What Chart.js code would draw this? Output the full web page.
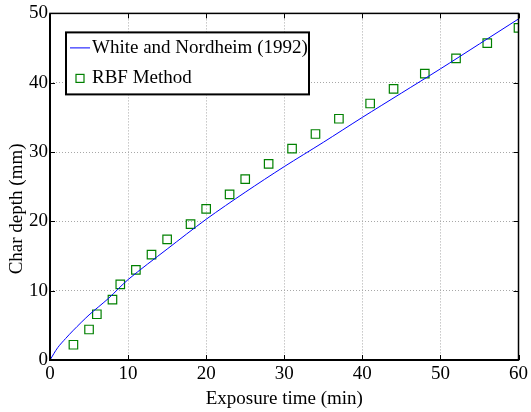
<!DOCTYPE html>
<html>
<head>
<meta charset="utf-8">
<script src="https://cdn.jsdelivr.net/npm/chart.js@4.4.0/dist/chart.umd.min.js"></script>
<style>
  html, body { margin: 0; padding: 0; background: #fff; }
  #wrap { width: 531px; height: 412px; }
</style>
</head>
<body>
<div id="wrap"><canvas id="myChart" width="531" height="412"></canvas></div>
<script>
// White and Nordheim (1992) curve
const modelTime = [0, 1, 2, 3, 5, 7.5, 10, 15, 20, 25, 30, 35, 40, 45, 50, 55, 60];
const modelDepth = [0, 1.8, 3.1, 4.3, 6.5, 8.9, 11.6, 16.0, 20.3, 24.2, 27.9, 31.4, 35.0, 38.5, 42.0, 45.6, 49.2];

// RBF method points
const rbfTime = [3, 5, 6, 8, 9, 11, 13, 15, 18, 20, 23, 25, 28, 31, 34, 37, 41, 44, 48, 52, 56, 60];
const rbfDepth = [2.2, 4.4, 6.6, 8.7, 10.9, 13.0, 15.2, 17.4, 19.6, 21.8, 23.9, 26.1, 28.3, 30.5, 32.6, 34.8, 37.0, 39.1, 41.3, 43.5, 45.7, 47.9];

const xTicks = [0, 10, 20, 30, 40, 50, 60];
const yTicks = [0, 10, 20, 30, 40, 50];
const yTitle = 'Char depth (mm)';

const serif = "'Liberation Serif', 'Times New Roman', serif";
const ctx = document.getElementById('myChart').getContext('2d');

function toPoints(xs, ys) {
    let pts = [];
    for (let i = 0; i < xs.length; i++) {
        pts.push({ x: xs[i], y: ys[i] });
    }
    return pts;
}

// frame with inward ticks, like the original plot
const framePlugin = {
    id: 'frame',
    afterDatasetsDraw(chart) {
        const c = chart.ctx;
        const a = chart.chartArea;
        const xs = chart.scales.x, ys = chart.scales.y;
        c.save();
        c.strokeStyle = '#000';
        c.lineWidth = 1;
        c.beginPath();
        xTicks.forEach(t => {
            const px = Math.round(xs.getPixelForValue(t)) + 0.5;
            c.moveTo(px, a.bottom); c.lineTo(px, a.bottom - 5);
            c.moveTo(px, a.top); c.lineTo(px, a.top + 5);
        });
        yTicks.forEach(t => {
            const py = Math.round(ys.getPixelForValue(t)) + 0.5;
            c.moveTo(a.left, py); c.lineTo(a.left + 5, py);
            c.moveTo(a.right, py); c.lineTo(a.right - 5, py);
        });
        c.stroke();
        c.lineWidth = 1.5;
        c.strokeRect(a.left, a.top, a.right - a.left, a.bottom - a.top);
        c.lineWidth = 2;
        c.beginPath();
        c.moveTo(a.left, a.top); c.lineTo(a.left, a.bottom); c.lineTo(a.right, a.bottom);
        c.stroke();

        // y axis title, sits a bit below the middle in the original
        c.translate(17, ys.getPixelForValue(21.8));
        c.rotate(-Math.PI / 2);
        c.font = '19px ' + serif;
        c.fillStyle = '#000';
        c.textAlign = 'center';
        c.textBaseline = 'middle';
        c.fillText(yTitle, 0, 0);
        c.restore();
    }
};

// legend box inside the plot, top left
const legendPlugin = {
    id: 'boxLegend',
    afterDraw(chart) {
        const c = chart.ctx;
        const a = chart.chartArea;
        const bx = a.left + 16, by = a.top + 19, bw = 243, bh = 62;
        c.save();
        c.fillStyle = '#fff';
        c.fillRect(bx, by, bw, bh);
        c.strokeStyle = '#000';
        c.lineWidth = 2;
        c.strokeRect(bx, by, bw, bh);
        c.font = '19px ' + serif;
        c.textBaseline = 'middle';
        c.fillStyle = '#000';
        const ds = chart.data.datasets;
        // line entry
        c.strokeStyle = ds[0].borderColor;
        c.lineWidth = 1;
        c.beginPath();
        c.moveTo(bx + 4, by + 15.5); c.lineTo(bx + 24, by + 15.5);
        c.stroke();
        c.fillText(ds[0].label, bx + 26, by + 16);
        // marker entry
        c.strokeStyle = ds[1].borderColor;
        c.lineWidth = 1.2;
        c.strokeRect(bx + 10, by + 42, 8, 8);
        c.fillText(ds[1].label, bx + 26, by + 46);
        c.restore();
    }
};

new Chart(ctx, {
    type: 'scatter',
    data: {
        datasets: [{
            label: 'White and Nordheim (1992)',
            data: toPoints(modelTime, modelDepth),
            showLine: true,
            borderColor: 'rgb(0,0,255)',
            borderWidth: 1,
            pointRadius: 0,
            tension: 0.3,
            fill: false
        }, {
            label: 'RBF Method',
            data: toPoints(rbfTime, rbfDepth),
            showLine: false,
            pointStyle: 'rect',
            pointRadius: 6,
            borderColor: 'rgb(0,128,0)',
            backgroundColor: 'rgba(0,0,0,0)',
            borderWidth: 1.2
        }]
    },
    options: {
        responsive: false,
        animation: false,
        layout: { padding: { left: 0, right: 9.5, top: 10, bottom: 0 } },
        plugins: {
            legend: { display: false },
            tooltip: { enabled: false }
        },
        scales: {
            x: {
                type: 'linear',
                min: 0, max: 60,
                afterBuildTicks: s => { s.ticks = xTicks.map(v => ({ value: v })); },
                afterFit: s => { s.height = 52; },
                border: { display: false, dash: [1, 2] },
                grid: { color: '#a8a8a8', drawTicks: false, lineWidth: 1 },
                ticks: { color: '#000', font: { family: serif, size: 19 }, padding: 3, maxRotation: 0 },
                title: { display: true, text: 'Exposure time (min)', color: '#000', font: { family: serif, size: 19 }, padding: { top: 0, bottom: 2 } }
            },
            y: {
                type: 'linear',
                min: 0, max: 50,
                afterBuildTicks: s => { s.ticks = yTicks.map(v => ({ value: v })); },
                afterFit: s => { s.width = 50; },
                border: { display: false, dash: [1, 2] },
                grid: { color: '#a8a8a8', drawTicks: false, lineWidth: 1 },
                ticks: { color: '#000', font: { family: serif, size: 19 }, padding: 2 },
                title: { display: false }
            }
        }
    },
    plugins: [framePlugin, legendPlugin]
});
</script>
</body>
</html>
